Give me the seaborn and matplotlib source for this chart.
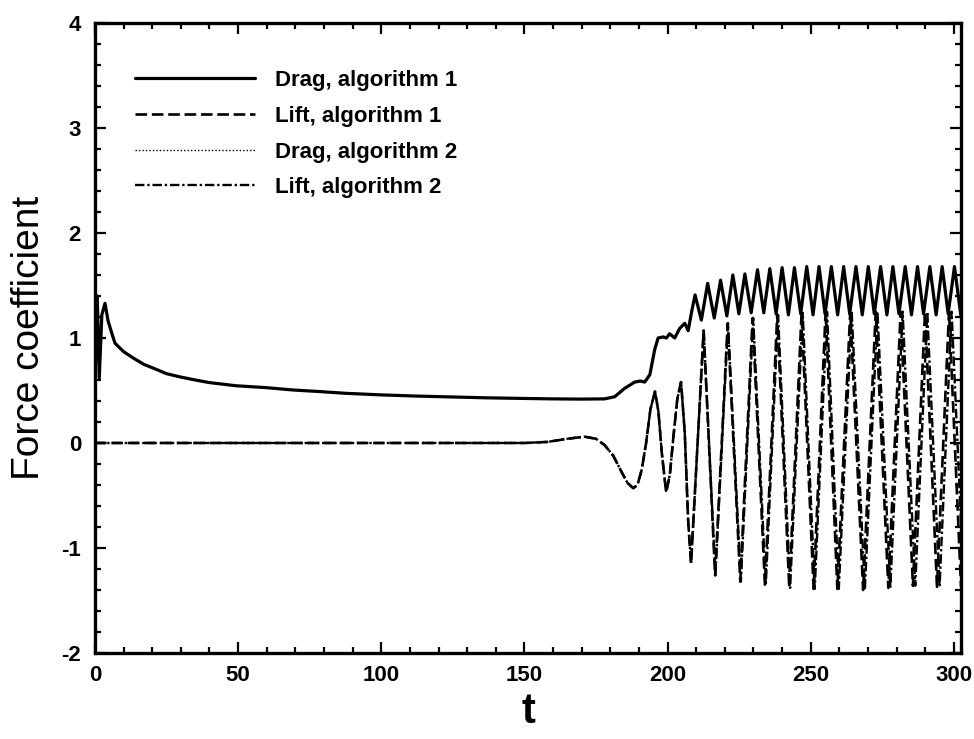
import matplotlib
matplotlib.use("Agg")
import matplotlib.pyplot as plt
import pandas as pd
import seaborn as sns
from matplotlib.ticker import MultipleLocator

# ---- time histories of the force coefficients ----
drag1_t = [0.0, 0.8, 1.5, 2.4, 3.5, 4.6, 6.4, 7.0, 10.0, 13.3, 17.0, 21.5, 25.0,
           29.6, 35.0, 40.0, 49.3, 59.8, 69.0, 78.3, 87.6, 100.0, 112.0, 125.0,
           137.0, 150.0, 160.0, 170.0, 178.0, 181.5, 185.0, 188.5, 190.5, 192.0,
           193.8, 195.5, 196.7, 198.4, 199.6, 200.7, 202.5, 204.2, 206.0, 207.2,
           208.4,
           209.6, 211.8, 214.0, 216.3, 218.5, 220.7, 222.8, 224.9, 227.0, 229.2,
           231.4, 233.6, 235.7, 237.9, 240.0, 242.2, 244.3, 246.5, 248.6, 250.8,
           252.9, 255.0, 257.2, 259.4, 261.5, 263.6, 265.8, 268.0, 270.1, 272.2,
           274.4, 276.6, 278.7, 280.8, 283.0, 285.2, 287.3, 289.4, 291.6, 293.8,
           295.9, 298.0, 300.2, 302.4]
drag1_v = [0.60, 1.40, 0.62, 1.22, 1.33, 1.16, 1.00, 0.95, 0.87, 0.81, 0.75, 0.70, 0.66,
           0.63, 0.60, 0.575, 0.545, 0.527, 0.505, 0.49, 0.473, 0.458, 0.447, 0.438,
           0.430, 0.424, 0.420, 0.418, 0.420, 0.44, 0.52, 0.58, 0.59, 0.58,
           0.65, 0.89, 1.00, 1.01, 1.00, 1.04, 1.00, 1.09, 1.14, 1.07,
           1.25,
           1.41, 1.17, 1.52, 1.19, 1.55, 1.21, 1.60, 1.23, 1.61, 1.24,
           1.65, 1.24, 1.66, 1.23, 1.67, 1.22, 1.67, 1.23, 1.68, 1.22,
           1.68, 1.23, 1.68, 1.22, 1.68, 1.23, 1.68, 1.22, 1.68, 1.23,
           1.68, 1.22, 1.68, 1.23, 1.68, 1.22, 1.68, 1.23, 1.68, 1.22,
           1.68, 1.23, 1.68, 1.22]

# algorithm 2 drag coincides with algorithm 1
drag2_t = list(drag1_t)
drag2_v = list(drag1_v)

lift1_t = [0.0, 60.0, 120.0, 150.0, 158.0, 165.0, 171.0, 175.0, 178.0, 181.0,
           184.0, 186.0, 188.0, 189.5, 191.0, 192.5, 194.0, 195.6, 196.8, 198.0,
           199.5, 200.8, 202.0, 203.4, 204.7, 206.0, 207.2,
           208.2, 212.6, 216.6, 221.0, 225.4, 229.7, 234.0, 238.3, 242.5, 246.8,
           251.0, 255.2, 259.3, 263.8, 268.3, 272.7, 277.1, 281.4, 285.7, 289.9,
           294.1, 298.3, 302.5]
lift1_v = [0.0, 0.0, 0.0, 0.0, 0.01, 0.04, 0.06, 0.04, -0.02, -0.12,
           -0.28, -0.38, -0.43, -0.40, -0.25, 0.0, 0.32, 0.49, 0.30, -0.10,
           -0.47, -0.30, 0.05, 0.42, 0.58, 0.10, -0.75,
           -1.15, 1.07, -1.26, 1.14, -1.32, 1.19, -1.35, 1.22, -1.38, 1.24,
           -1.39, 1.25, -1.39, 1.25, -1.40, 1.25, -1.38, 1.25, -1.36, 1.25,
           -1.37, 1.25, -1.37]

lift2_t = [0.0, 60.0, 120.0, 150.0, 158.0, 165.0, 171.0, 175.0, 178.0, 181.0,
           184.0, 186.0, 188.0, 189.5, 191.0, 192.5, 194.0, 195.6, 196.8, 198.0,
           199.5, 200.8, 202.0, 203.4, 204.7, 206.0, 207.2,
           208.2, 212.6, 216.7, 221.1, 225.6, 229.9, 234.3, 238.6, 242.8, 247.2,
           251.4, 255.7, 259.8, 264.3, 268.9, 273.3, 277.8, 282.1, 286.5, 290.7,
           295.0, 299.2, 303.5]
lift2_v = [0.0, 0.0, 0.0, 0.0, 0.01, 0.04, 0.06, 0.04, -0.02, -0.12,
           -0.28, -0.38, -0.43, -0.40, -0.25, 0.0, 0.32, 0.49, 0.30, -0.10,
           -0.47, -0.30, 0.05, 0.42, 0.58, 0.10, -0.75,
           -1.15, 1.07, -1.26, 1.14, -1.32, 1.19, -1.35, 1.22, -1.38, 1.24,
           -1.39, 1.25, -1.39, 1.25, -1.40, 1.25, -1.38, 1.25, -1.36, 1.25,
           -1.37, 1.25, -1.37]

series_labels = ["Drag, algorithm 1", "Lift, algorithm 1",
                 "Drag, algorithm 2", "Lift, algorithm 2"]
x_ticks = [0, 50, 100, 150, 200, 250, 300]
y_ticks = [-2, -1, 0, 1, 2, 3, 4]

sns.set_style("ticks")
plt.rcParams["font.family"] = ["Liberation Sans", "DejaVu Sans"]
plt.rcParams["axes.unicode_minus"] = False
for key in ("text.color", "axes.labelcolor", "xtick.color", "ytick.color",
            "axes.edgecolor"):
    plt.rcParams[key] = "black"

fig = plt.figure(figsize=(9.74, 7.39), dpi=100)
ax = fig.add_axes([0.0975, 0.1164, 0.8892, 0.8525])

frames = {
    "d1": pd.DataFrame({"t": drag1_t, "c": drag1_v}),
    "l1": pd.DataFrame({"t": lift1_t, "c": lift1_v}),
    "d2": pd.DataFrame({"t": drag2_t, "c": drag2_v}),
    "l2": pd.DataFrame({"t": lift2_t, "c": lift2_v}),
}

sns.lineplot(data=frames["d2"], x="t", y="c", ax=ax, color="black",
             lw=1.0, linestyle=(0, (1, 1.5)), estimator=None, sort=False,
             label=series_labels[2])
sns.lineplot(data=frames["l2"], x="t", y="c", ax=ax, color="black",
             lw=1.7, linestyle=(0, (4, 1.2, 1, 1.2)), estimator=None, sort=False,
             label=series_labels[3])
sns.lineplot(data=frames["l1"], x="t", y="c", ax=ax, color="black",
             lw=1.9, linestyle=(0, (4.4, 1.8)), estimator=None, sort=False,
             label=series_labels[1])
sns.lineplot(data=frames["d1"], x="t", y="c", ax=ax, color="black",
             lw=2.3, linestyle="-", estimator=None, sort=False,
             label=series_labels[0])

for ln in ax.get_lines():
    ln.set_solid_joinstyle("round")
    ln.set_dash_joinstyle("round")

ax.set_xlim(0, 302.5)
ax.set_ylim(-2, 4)
ax.set_xticks(x_ticks)
ax.set_yticks(y_ticks)
ax.xaxis.set_minor_locator(MultipleLocator(10))
ax.yaxis.set_minor_locator(MultipleLocator(0.2))
ax.tick_params(which="both", direction="in", top=True, right=True,
               color="black", labelcolor="black", width=1.6)
ax.tick_params(which="major", length=8, labelsize=16, pad=9)
ax.tick_params(which="minor", length=4)
ax.tick_params(axis="y", which="major", pad=10)
for lab in ax.get_xticklabels() + ax.get_yticklabels():
    lab.set_fontweight("bold")
for sp in ax.spines.values():
    sp.set_visible(True)
    sp.set_linewidth(2.4)
    sp.set_color("black")

ax.set_xlabel("t", fontsize=30, fontweight="bold", labelpad=4, color="black")
ax.set_ylabel("Force coefficient", fontsize=28, labelpad=10, color="black")

handles, labels = ax.get_legend_handles_labels()
order = [labels.index(s) for s in series_labels]
leg = ax.legend([handles[i] for i in order], [labels[i] for i in order],
                loc="upper left", bbox_to_anchor=(0.046, 0.925), frameon=False,
                borderaxespad=0, borderpad=0, handlelength=5.4,
                handletextpad=0.9, labelspacing=0.66,
                prop={"size": 16, "weight": "bold"})
for txt in leg.get_texts():
    txt.set_color("black")

fig.savefig("out.png", dpi=100, facecolor="white")
